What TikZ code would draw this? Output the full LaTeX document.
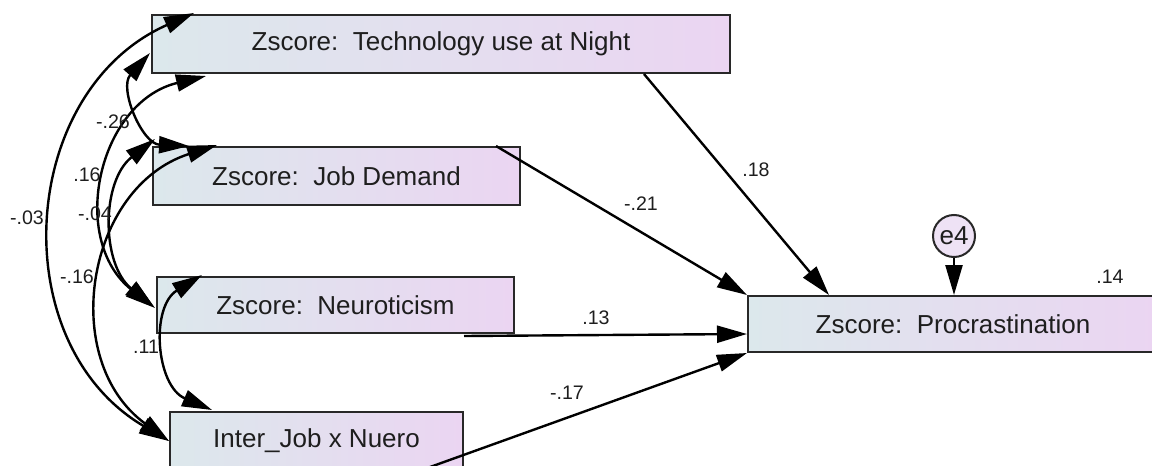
\documentclass[tikz,border=0pt]{standalone}
\usepackage{fontspec}
\setmainfont{Liberation Sans}
\usetikzlibrary{arrows.meta,calc}
\definecolor{boxL}{RGB}{220,232,236}
\definecolor{boxR}{RGB}{235,213,242}
\definecolor{edgec}{RGB}{40,40,40}
\definecolor{errfill}{RGB}{238,226,245}
\definecolor{txt}{RGB}{30,30,30}
\tikzset{
  amos/.tip={Triangle[length=15pt,width=8.5pt]},
  box/.style={draw=edgec, line width=1pt, left color=boxL, right color=boxR,
    inner sep=0pt, minimum height=29pt, text=txt,
    font=\fontsize{13}{15}\selectfont},
  reg/.style={draw=black, line width=1.2pt, -amos},
  cov/.style={draw=black, line width=1.2pt, amos-amos},
  lab/.style={inner sep=0pt, text=txt, font=\fontsize{9.8}{11}\selectfont}
}
\begin{document}
\begin{tikzpicture}[x=0.5pt,y=-0.5pt]
\useasboundingbox (0,0) rectangle (1152,466);
\clip (0,0) rectangle (1152,466);
\fill[white] (0,0) rectangle (1152,466);

% boxes
\node[box, minimum width=289pt] (tech) at (441,44) {Zscore:\ \ Technology use at Night};
\node[box, minimum width=183.5pt] (job) at (336.5,176) {Zscore:\ \ Job Demand};
\node[box, minimum width=178.5pt, minimum height=28pt] (neuro) at (335.5,305) {Zscore:\ \ Neuroticism};
\node[box, minimum width=146.5pt] (inter) at (316.5,441) {Inter\_Job x Nuero};
\node[box, minimum width=205pt, minimum height=28pt] (proc) at (953,324) {Zscore:\ \ Procrastination};
\node[circle, draw=edgec, line width=1pt, fill=errfill, minimum size=21pt, inner sep=0pt,
  text=txt, font=\fontsize{13}{15}\selectfont] (e4) at (954,236) {e4};

% regression paths
\draw[reg] ($(tech.south west)+(493,0)$) -- ($(proc.north west)+(82,0)$);
\draw[reg] ($(job.north west)+(344,0)$) -- (proc.north west);
\draw[reg] ($(neuro.south west)+(308,2)$) -- ($(proc.north west)+(0,39)$);
\draw[reg] ($(inter.north west)+(250,60)$) -- (proc.south west);
\draw[reg] (e4) -- (e4 |- proc.north);

% covariances
\draw[cov] ($(tech.north west)+(43,-1)$) .. controls +(-176,78) and +(-166,-98) .. (inter.west);
\draw[cov] ($(tech.north west)+(-1,39)$) .. controls +(-31.5,35) and +(-47,-2) .. ($(job.north west)+(37,0)$);
\draw[cov] ($(tech.south west)+(55,2)$) .. controls +(-108,26) and +(-87,-68) .. ($(neuro.west)+(-1,3)$);
\draw[cov] ($(job.north west)+(3,-7)$) .. controls +(-54,42) and +(-53,-43) .. ($(neuro.west)+(-2,2)$);
\draw[cov] ($(job.north west)+(65,-1)$) .. controls +(-131,42) and +(-111,-81) .. (inter.west);
\draw[cov] ($(neuro.north west)+(46,-1)$) .. controls +(-52,32) and +(-56,-24) .. ($(inter.north west)+(43,-1)$);

% labels
\node[lab] (l18) at (756,170) {.18};
\node[lab] (l21) at (641,204) {-.21};
\node[lab] (l13) at (596,318) {.13};
\node[lab] (l17) at (567,393) {-.17};
\node[lab] (l14) at (1110,277) {.14};
\node[lab] (l26) at (113,122) {-.26};
\node[lab] (l16a) at (87,175) {.16};
\node[lab] (l04) at (95,214) {-.04};
\node[lab] (l03) at (27,218) {-.03};
\node[lab] (l16b) at (77,277) {-.16};
\node[lab] (l11) at (146,347) {.11};
\end{tikzpicture}
\end{document}
